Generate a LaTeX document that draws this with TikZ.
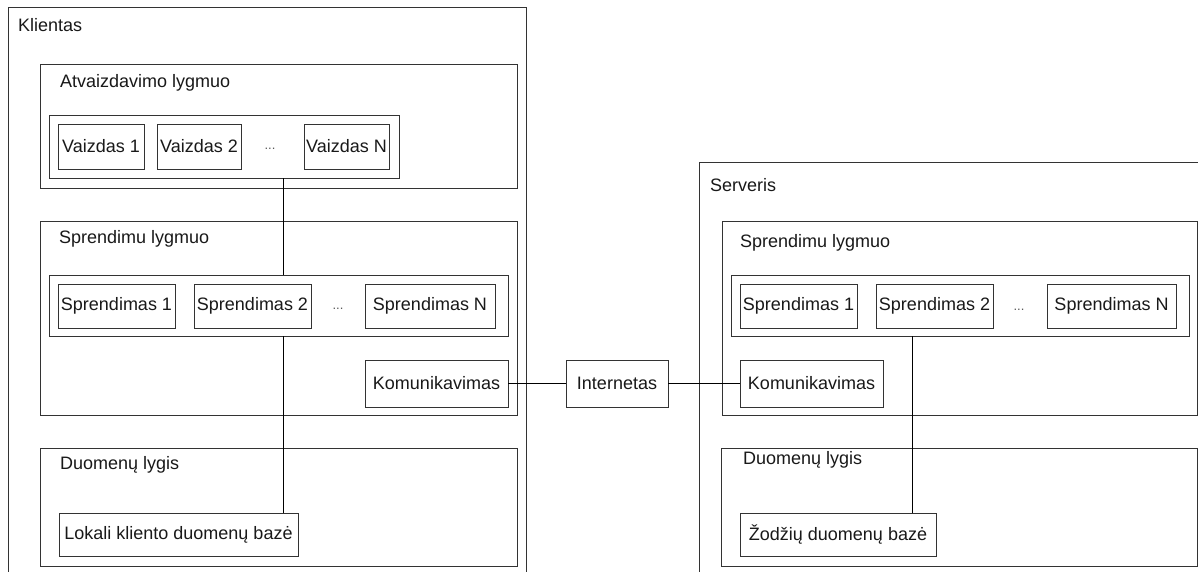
\documentclass[tikz,border=0pt]{standalone}
\usepackage{fontspec}
\setmainfont{Liberation Sans}
% a framed cell given by its top-left and bottom-right corners
\newcommand\cellbox[6]{%
  \node[box, minimum width={(#4-#2)*1pt}, minimum height={(#5-#3)*1pt}]
    (#1) at ({(#2+#4)/2},{(#3+#5)/2}) {#6};}
\begin{document}
\begin{tikzpicture}[x=1pt,y=-1pt,
  every node/.style={font=\fontsize{18}{21}\selectfont, text=black!90},
  frame/.style={draw=black!80, line width=1pt},
  box/.style={frame, inner sep=0pt, outer sep=0pt},
  lbl/.style={anchor=west, inner sep=0pt},
  dots/.style={anchor=base, inner sep=0pt, font=\fontsize{13}{14}\selectfont, text=black!65},
  link/.style={draw=black, line width=1pt}]

\fill[white] (0,0) rectangle (1198,571);
\useasboundingbox (0,0) rectangle (1198,571);

\begin{scope}
\clip (0,0) rectangle (1198,571);

% ---- client (open at the bottom) ----
\draw[frame] (8,580) -- (8,7) -- (526,7) -- (526,580);
\node[lbl] (klientasLbl) at (18,25) {Klientas};

% presentation layer
\cellbox{viewLayer}{40}{64}{517}{188}{}
\node[lbl] (viewLbl) at (60,83) {Atvaizdavimo lygmuo};
\cellbox{views}{49}{115}{399}{178}{}
\cellbox{view1}{58}{124}{144}{169}{Vaizdas 1}
\cellbox{view2}{157}{124}{241}{169}{Vaizdas 2}
\node[dots] (viewDots) at (270,149) {...};
\cellbox{viewN}{304}{124}{389}{169}{Vaizdas N}

% logic layer (client)
\cellbox{solLayerC}{40}{221}{517}{415}{}
\node[lbl] (solLblC) at (59,239) {Sprendimu lygmuo};
\cellbox{solsC}{49}{275}{508}{336}{}
\cellbox{solC1}{58}{284}{175}{328}{Sprendimas 1}
\cellbox{solC2}{194}{284}{311}{328}{Sprendimas 2}
\node[dots] (solDotsC) at (338,309) {...};
\cellbox{solCN}{365}{284}{495}{328}{Sprendimas N}
\cellbox{commC}{365}{360}{508}{407}{Komunikavimas}

% data layer (client)
\cellbox{dataC}{40}{448}{517}{566}{}
\node[lbl] (dataLblC) at (60,465) {Duomenų lygis};
\cellbox{dbC}{59}{513}{298}{556}{Lokali kliento duomenų bazė}

% ---- network ----
\cellbox{net}{566}{360}{668}{407}{Internetas}

% ---- server (open at the right and bottom) ----
\draw[frame] (699,580) -- (699,162) -- (1210,162);
\node[lbl] (serverLbl) at (710,185) {Serveris};

% logic layer (server)
\cellbox{solLayerS}{722}{221}{1197}{415}{}
\node[lbl] (solLblS) at (740,243) {Sprendimu lygmuo};
\cellbox{solsS}{731}{275}{1189}{336}{}
\cellbox{solS1}{740}{284}{857}{328}{Sprendimas 1}
\cellbox{solS2}{876}{284}{993}{328}{Sprendimas 2}
\node[dots] (solDotsS) at (1019,310) {...};
\cellbox{solSN}{1047}{284}{1176}{328}{Sprendimas N}
\cellbox{commS}{740}{360}{883}{407}{Komunikavimas}

% data layer (server)
\cellbox{dataS}{721}{448}{1197}{566}{}
\node[lbl] (dataLblS) at (743,460) {Duomenų lygis};
\cellbox{dbS}{740}{513}{936}{556}{Žodžių duomenų bazė}

% ---- connectors ----
\coordinate (busC) at (283,0);
\coordinate (busS) at (912,0);
\draw[link] (views.south -| busC) -- (solsC.north -| busC);
\draw[link] (solsC.south -| busC) -- (dbC.north -| busC);
\draw[link] (commC.east) -- (net.west);
\draw[link] (net.east) -- (commS.west);
\draw[link] (solsS.south -| busS) -- (dbS.north -| busS);
\end{scope}
\end{tikzpicture}
\end{document}
